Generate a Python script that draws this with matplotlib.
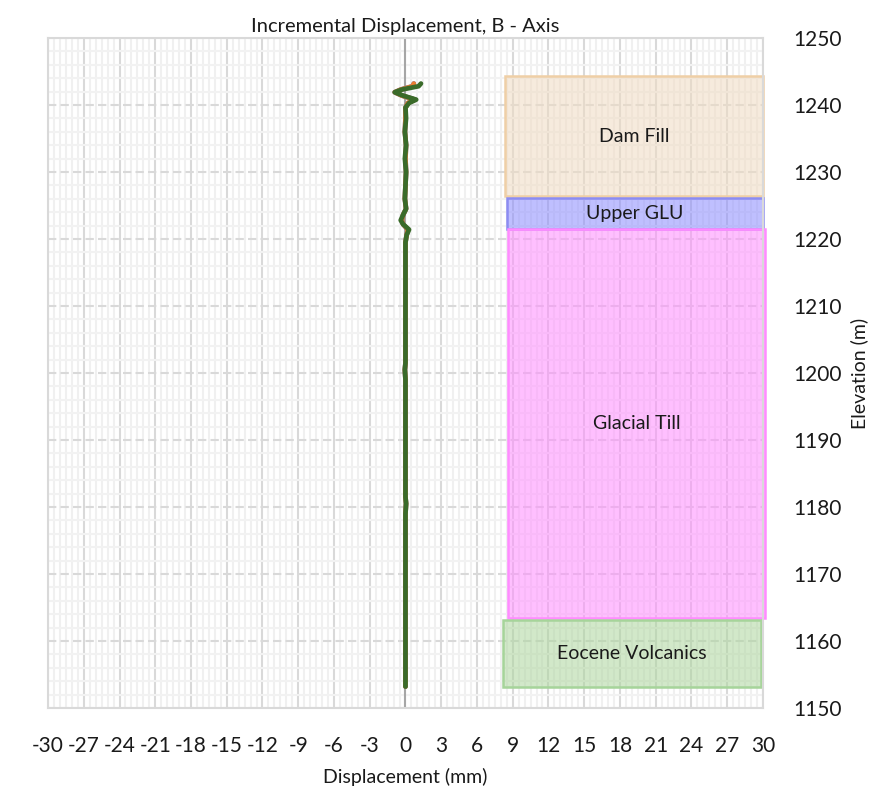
import matplotlib
matplotlib.use('Agg')
import matplotlib.pyplot as plt
from matplotlib.patches import Rectangle
from matplotlib.ticker import MultipleLocator

plt.rcParams['font.family'] = ['Lato', 'DejaVu Sans']
plt.rcParams['axes.unicode_minus'] = False

# readings (elevation m, displacement mm)
elev = [1243.2, 1242.8, 1242.3, 1241.9, 1241.4, 1240.8, 1240.3, 1239.6, 1238.0,
        1236.0, 1234.0, 1232.0, 1230.0, 1228.0, 1226.0, 1224.5, 1223.6, 1222.8,
        1222.2, 1221.4, 1220.6, 1219.5, 1216.0, 1212.0, 1208.0, 1204.0, 1201.5,
        1200.5, 1199.0, 1196.0, 1190.0, 1185.0, 1181.5, 1180.5, 1179.0, 1175.0,
        1170.0, 1165.0, 1160.0, 1156.0, 1153.2]
disp_a = [1.3, 1.1, -0.3, -0.9, -0.2, 0.9, 0.3, 0.0, 0.05,
          -0.05, 0.05, -0.05, 0.05, 0.0, -0.05, 0.05, -0.2, -0.4,
          -0.2, 0.3, 0.1, 0.0, 0.0, 0.0, 0.0, 0.0, 0.0,
          -0.05, 0.0, 0.0, 0.0, 0.0, 0.0, 0.05, 0.0, 0.0,
          0.0, 0.0, 0.0, 0.0, 0.0]
disp_b = [0.7, 0.6, -0.4, -0.9, -0.3, 0.8, 0.2, 0.0, 0.0,
          -0.05, 0.05, 0.0, 0.05, 0.0, -0.05, 0.05, -0.2, -0.3,
          -0.2, 0.2, 0.1, 0.0, 0.0, 0.0, 0.0, 0.0, 0.0,
          -0.05, 0.0, 0.0, 0.0, 0.0, 0.0, 0.05, 0.0, 0.0,
          0.0, 0.0, 0.0, 0.0, 0.0]

layers = ['Dam Fill', 'Upper GLU', 'Glacial Till', 'Eocene Volcanics']
layer_top = [1244.3, 1226.1, 1221.5, 1163.1]
layer_bot = [1226.4, 1221.5, 1163.4, 1153.1]
layer_left = [8.35, 8.5, 8.6, 8.2]
layer_right = [30.0, 30.0, 30.15, 29.8]
face = [(0.94, 0.86, 0.76, 0.55), (0.55, 0.55, 1.0, 0.55),
        (1.0, 0.55, 1.0, 0.55), (0.68, 0.84, 0.62, 0.55)]
edge = ['#efcfa6', '#8c8cf2', '#ff8cff', '#a6d49a']

fig = plt.figure(figsize=(8.83, 7.88), dpi=100)
ax = fig.add_axes([0.0544, 0.1015, 0.8096, 0.8503])

ax.set_xlim(-30, 30)
ax.set_ylim(1150, 1250)
ax.xaxis.set_major_locator(MultipleLocator(3))
ax.xaxis.set_minor_locator(MultipleLocator(0.5))
ax.yaxis.set_major_locator(MultipleLocator(10))
ax.yaxis.set_minor_locator(MultipleLocator(2))
ax.grid(which='minor', axis='x', color='#f0f0f0', lw=1.5)
ax.grid(which='minor', axis='y', color='#f2f2f2', lw=1.5)
ax.grid(which='major', axis='x', color='#d9d9d9', lw=1.5)
ax.grid(which='major', axis='y', color='#d9d9d9', lw=1.5, ls=(0, (4, 2)))
ax.set_axisbelow(True)

for s in ax.spines.values():
    s.set_color('#d9d9d9')
    s.set_linewidth(1.5)

ax.axvline(0, color='#a6a6a6', lw=1.5, zorder=1)

for name, t, b, l, r, fc, ec in zip(layers, layer_top, layer_bot, layer_left,
                                    layer_right, face, edge):
    ax.add_patch(Rectangle((l, b), r - l, t - b, facecolor=fc, edgecolor=ec,
                           lw=1.8, zorder=2, clip_on=False))
    ax.text((l + r) / 2, (t + b) / 2, name, ha='center', va='center',
            fontsize=14, color='#1a1a1a', zorder=3)

ax.plot(disp_b, elev, color='#4472c4', lw=3.4, solid_capstyle='round', zorder=4)
ax.plot(disp_b, elev, color='#ed7d31', lw=3.4, solid_capstyle='round', zorder=4)
ax.plot(disp_a, elev, color='#3a6b2a', lw=3.4, solid_capstyle='round', zorder=5)

ax.yaxis.tick_right()
ax.yaxis.set_label_position('right')
ax.tick_params(which='both', length=0)
ax.tick_params(axis='x', labelsize=15, pad=20, colors='#1a1a1a')
ax.tick_params(axis='y', labelsize=15, pad=22, colors='#1a1a1a')
for lab in ax.get_yticklabels():
    lab.set_horizontalalignment('left')

ax.set_title('Incremental Displacement, B - Axis', fontsize=14.5, pad=4, color='#1a1a1a')
ax.set_xlabel('Displacement (mm)', fontsize=14, labelpad=9, color='#1a1a1a')
ax.set_ylabel('Elevation (m)', fontsize=14, labelpad=6, color='#1a1a1a')

fig.savefig('out.png', dpi=100)
